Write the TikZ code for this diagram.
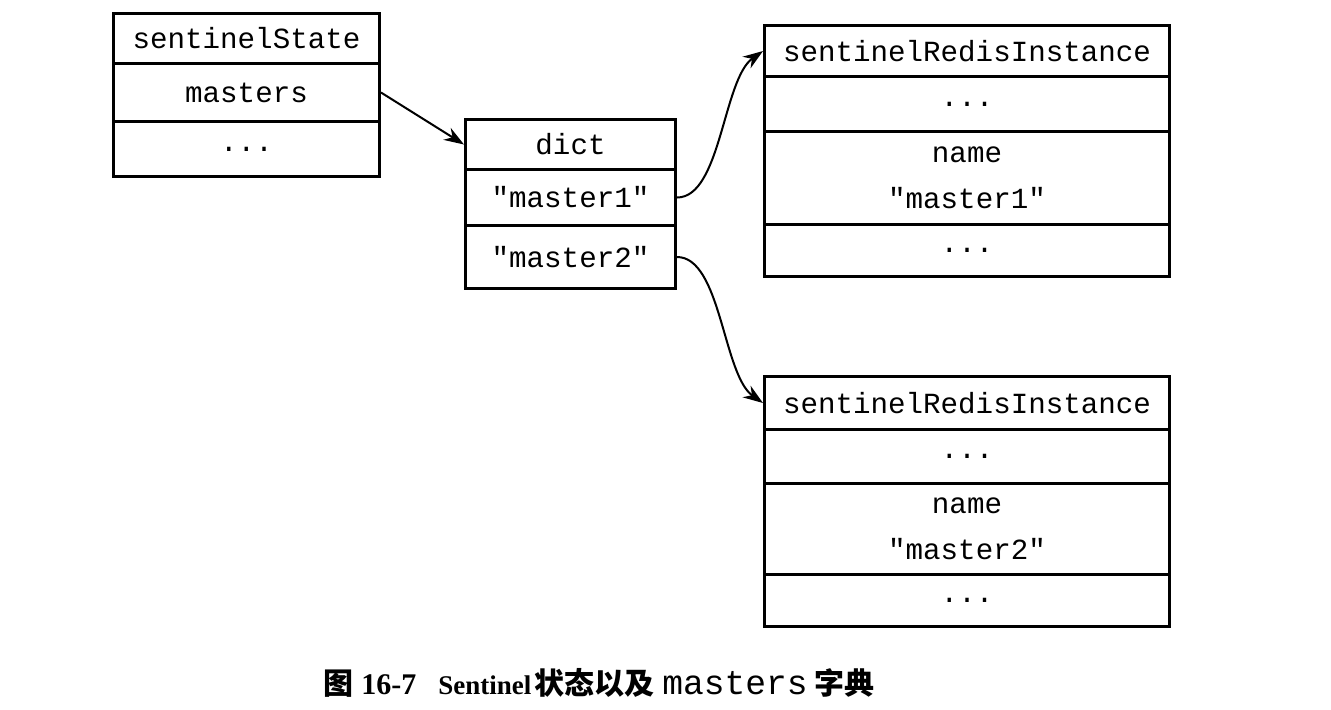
\documentclass[tikz,border=0pt]{standalone}
\usepackage{fontspec}
\setmainfont{Liberation Serif}
\newfontfamily\monof{Liberation Mono}
\newfontfamily\cjk{Noto Sans CJK SC}
\usetikzlibrary{arrows.meta}
\begin{document}
\begin{tikzpicture}[x=0.5pt,y=-0.5pt,
  cell/.style={draw, line width=1.5pt, inner sep=0pt, anchor=north west,
    font=\monof\fontsize{14.6}{17.5}\selectfont},
  ssw/.style={cell, minimum width=133pt},
  dw/.style={cell, minimum width=105pt},
  sw/.style={cell, minimum width=202.5pt},
  conn/.style={line width=1pt, -{Stealth[length=10pt,width=7pt]}}]
\useasboundingbox (0,0) rectangle (1331,709);
% sentinelState
\node[ssw, minimum height=25pt]   (ssh) at (112,12)  {sentinelState};
\node[ssw, minimum height=29pt]   (ssm) at (112,62)  {masters};
\node[ssw, minimum height=27.5pt] (ssd) at (112,120) {...};
% dict
\node[dw, minimum height=25pt]   (dh)  at (464,118) {dict};
\node[dw, minimum height=28pt]   (dm1) at (464,168) {"master1"};
\node[dw, minimum height=31.5pt] (dm2) at (464,224) {"master2"};
% sentinelRedisInstance 1
\node[sw, minimum height=25.5pt] (s1h) at (763,24)  {sentinelRedisInstance};
\node[sw, minimum height=27.5pt] (s1a) at (763,75)  {...};
\node[sw, minimum height=46.5pt, align=center] (s1n) at (763,130) {name\\[5.5pt]"master1"};
\node[sw, minimum height=26pt]   (s1b) at (763,223) {...};
% sentinelRedisInstance 2
\node[sw, minimum height=26.5pt] (s2h) at (763,375) {sentinelRedisInstance};
\node[sw, minimum height=27pt]   (s2a) at (763,428) {...};
\node[sw, minimum height=45.5pt, align=center] (s2n) at (763,482) {name\\[5.5pt]"master2"};
\node[sw, minimum height=26pt]   (s2b) at (763,573) {...};
% connectors
\draw[conn] (ssm.east) -- (dh.west);
\draw[conn] (dm1.east) .. controls +(44,0) and +(-40,28) .. (s1h.west);
\draw[conn] (dm2.east) .. controls +(44,0) and +(-40,-28) .. (s2h.west);
% caption
\node (cap) at (599,683) {\fontsize{15}{17}\selectfont\cjk\bfseries 图\hspace{4pt}{\rmfamily 16-7}\hspace{11pt}{\rmfamily\fontsize{13.5}{17}\selectfont Sentinel}\hspace{1.5pt}状态以及\hspace{4pt}{\monof\mdseries\fontsize{17.3}{17}\selectfont masters}\hspace{3.5pt}字典};
\end{tikzpicture}
\end{document}
